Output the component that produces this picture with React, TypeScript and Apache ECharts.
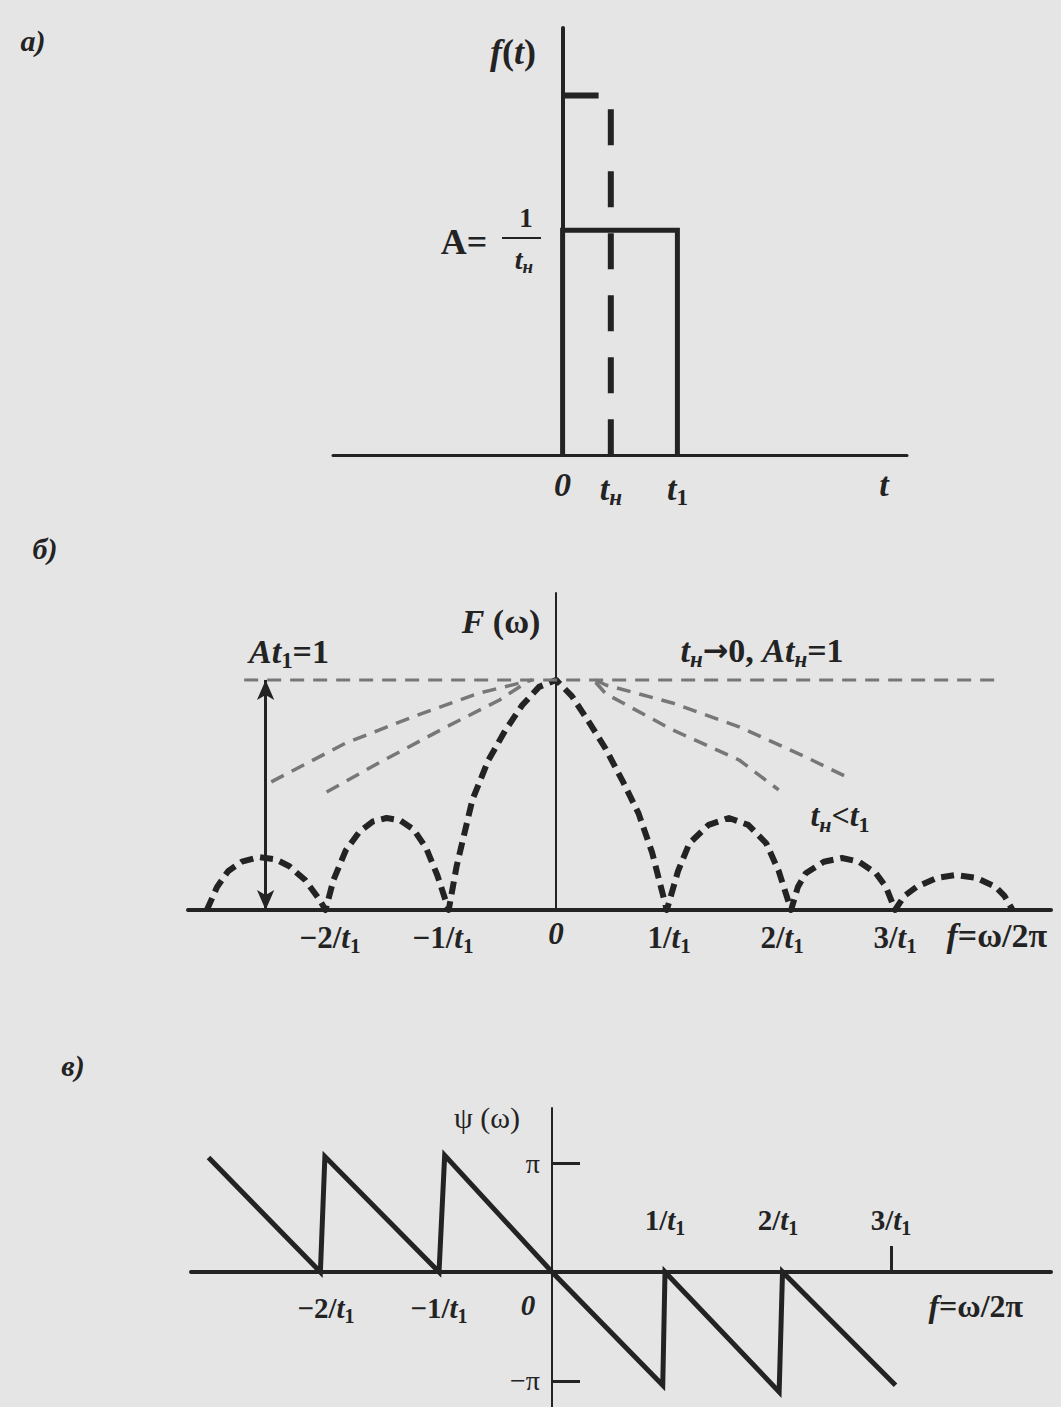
import React, { useEffect, useRef } from "react";
import * as echarts from "echarts";

const W = 1061;
const H = 1407;
const INK = "#232323";
const GREY = "#777777";
const PAPER = "#e5e5e5";
const SERIF = "'Liberation Serif', 'DejaVu Serif', serif";

// ---- а) rectangular pulses: time in units of t1, amplitude in units of A
const tN = 0.42;
const pulseT1: number[][] = [[0, 0], [0, 1], [1, 1], [1, 0]];
const pulseTn: number[][] = [[0, 1.6], [tN, 1.6], [tN, 0]];
const timeTickValues = [0, tN, 1, 2.8];
const timeTickLabels = ["{i|0}", "{i|t}{si|н}", "{i|t}{s|1}", "{i|t}"];

// ---- б) amplitude spectrum |F|, frequency in units of 1/t1
const spectrumT1: number[][] = [
  [-3.09, 0], [-3.0, 0.1], [-2.9, 0.17], [-2.78, 0.21], [-2.63, 0.23], [-2.48, 0.22],
  [-2.36, 0.19], [-2.22, 0.13], [-2.1, 0.05], [-2.04, 0],
  [-1.97, 0.13], [-1.86, 0.26], [-1.74, 0.34], [-1.62, 0.385], [-1.5, 0.4], [-1.38, 0.39],
  [-1.26, 0.35], [-1.15, 0.27], [-1.05, 0.15], [-0.95, 0],
  [-0.88, 0.19], [-0.74, 0.48], [-0.6, 0.65], [-0.45, 0.78], [-0.3, 0.89], [-0.15, 0.97], [0, 1],
  [0.14, 0.93], [0.3, 0.81], [0.44, 0.7], [0.6, 0.55], [0.73, 0.42], [0.85, 0.25], [0.98, 0],
  [1.08, 0.17], [1.18, 0.29], [1.35, 0.37], [1.53, 0.4], [1.7, 0.37], [1.86, 0.29], [1.97, 0.17], [2.08, 0],
  [2.14, 0.1], [2.21, 0.16], [2.37, 0.21], [2.53, 0.226], [2.68, 0.21], [2.83, 0.16], [2.92, 0.1], [3.0, 0],
  [3.08, 0.06], [3.19, 0.1], [3.37, 0.14], [3.54, 0.152], [3.72, 0.14], [3.89, 0.1], [3.97, 0.06], [4.04, 0],
];
// main lobes of shorter pulses (tн < t1)
const shortLobeLeft: number[][] = [[-2.52, 0.557], [-1.86, 0.726], [-1.27, 0.839], [-0.68, 0.943], [-0.21, 1.0]];
const shortLobeRight: number[][] = [[0.35, 1.0], [0.44, 0.978], [1.03, 0.9], [1.62, 0.796], [2.21, 0.665], [2.59, 0.574]];
const midLobeLeft: number[][] = [[-2.03, 0.513], [-1.57, 0.639], [-0.97, 0.796], [-0.5, 0.913], [-0.27, 0.987]];
const midLobeRight: number[][] = [[0.35, 0.99], [0.44, 0.94], [1.03, 0.783], [1.62, 0.652], [1.97, 0.522]];
// limit tн -> 0: flat spectrum
const flatLevel: number[][] = [[-2.76, 1], [3.92, 1]];
const arrowAt = -2.57;
const freqTickValues = [-2, -1, 0, 1, 2, 3, 3.9];
const freqTickLabels = [
  "{n|−2/}{i|t}{s|1}", "{n|−1/}{i|t}{s|1}", "{i|0}", "{n|1/}{i|t}{s|1}",
  "{n|2/}{i|t}{s|1}", "{n|3/}{i|t}{s|1}", "{I|f}{N|=ω/2π}",
];

// ---- в) phase spectrum ψ, in units of π
const phase: number[][] = [
  [-3.04, 1.05], [-2.05, 0], [-2.01, 1.06], [-1.0, 0], [-0.95, 1.07], [0, 0],
  [0.98, -1.04], [1.0, 0], [2.01, -1.1], [2.04, 0], [3.04, -1.04],
];
const phaseLowTicks = [-2, -1, 0, 3.75];
const phaseLowLabels = ["{n|−2/}{i|t}{s|1}", "{n|−1/}{i|t}{s|1}", "{z|0}", "{I|f}{N|=ω/2π}"];
const phaseHighTicks = [1, 2, 3];
const phaseHighLabels = ["{n|1/}{i|t}{s|1}", "{n|2/}{i|t}{s|1}", "{n|3/}{i|t}{s|1}"];
const phaseLevels = [1, -1];
const phaseLevelLabels = ["π", "−π"];

// frame of panel в (pixels) and where its zero lines fall
const PH = { left: 191, right: 1051, top: 1108, bottom: H, zeroX: 552, zeroY: 1272 };

const pick = (vals: number[], labels: string[]) => (v: number) => {
  const i = vals.findIndex((u) => Math.abs(u - v) < 1e-6);
  return i >= 0 ? labels[i] : "";
};

const rich = (size: number, weight: string = "normal") => {
  const base = { fontFamily: SERIF, color: INK, fontWeight: weight };
  const sub = Math.round(size * 0.68);
  const drop = Math.round(size * 0.55);
  return {
    i: { ...base, fontStyle: "italic", fontSize: size },
    bi: { ...base, fontStyle: "italic", fontWeight: "bold", fontSize: size },
    n: { ...base, fontSize: size },
    I: { ...base, fontStyle: "italic", fontSize: size + 3 },
    N: { ...base, fontSize: size + 3 },
    ar: { ...base, fontFamily: "'DejaVu Sans', sans-serif", fontWeight: "bold", fontSize: size * 0.9 },
    z: { ...base, fontStyle: "italic", fontSize: size, padding: [0, 48, 0, 0] },
    s: { ...base, fontSize: sub, padding: [drop, 0, 0, 0] },
    si: { ...base, fontStyle: "italic", fontSize: sub, padding: [drop, 0, 0, 0] },
  };
};

const note = (x: number, y: number, text: string, size: number, weight = "normal") => ({
  type: "text",
  x,
  y,
  silent: true,
  style: {
    text,
    rich: rich(size, weight),
    fontFamily: SERIF,
    fontSize: size,
    fill: INK,
    align: "center",
    verticalAlign: "middle",
  },
});

const dashed = (data: number[][], grid: number, color: string, width: number, dash: number[]) => ({
  type: "line",
  xAxisIndex: grid,
  yAxisIndex: grid,
  data,
  symbol: "none",
  silent: true,
  clip: false,
  lineStyle: { color, width, type: dash, cap: "butt", join: "round" },
});

export default function App() {
  const ref = useRef<HTMLDivElement>(null);

  useEffect(() => {
    if (!ref.current) return;
    const chart = echarts.init(ref.current, undefined, { renderer: "svg" });

    const axisLine = (width: number, onZero = true) => ({ show: true, onZero, lineStyle: { color: INK, width } });

    chart.setOption({
      animation: false,
      backgroundColor: PAPER,
      grid: [
        { left: 333, right: W - 907, top: 28, bottom: H - 455, outerBoundsMode: "none" },
        { left: 188, right: W - 1051, top: 593, bottom: H - 910, outerBoundsMode: "none" },
        { left: PH.left, right: W - PH.right, top: PH.top, bottom: H - PH.bottom, outerBoundsMode: "none" },
      ],
      xAxis: [
        {
          gridIndex: 0, type: "value", min: -2, max: 3,
          axisLine: axisLine(3), axisTick: { show: false }, splitLine: { show: false },
          axisLabel: {
            customValues: timeTickValues, formatter: pick(timeTickValues, timeTickLabels),
            rich: rich(34, "bold"), margin: 12,
          },
        },
        {
          gridIndex: 1, type: "value", min: -3.257, max: 4.38,
          axisLine: axisLine(4), axisTick: { show: false }, splitLine: { show: false },
          axisLabel: {
            customValues: freqTickValues, formatter: pick(freqTickValues, freqTickLabels),
            rich: rich(31, "bold"), margin: 8,
          },
        },
        {
          // frequency axis of panel в, lifted from the frame's bottom to ψ = 0
          gridIndex: 2, type: "value", min: -3.195, max: 4.416, position: "bottom",
          offset: -(PH.bottom - PH.zeroY),
          axisLine: axisLine(4, false), axisTick: { show: false }, splitLine: { show: false },
          axisLabel: {
            customValues: phaseLowTicks, formatter: pick(phaseLowTicks, phaseLowLabels),
            rich: rich(29, "bold"), margin: 18,
          },
        },
        {
          // labels of the positive frequencies, written above ψ = 0
          gridIndex: 2, type: "value", min: -3.195, max: 4.416, position: "top",
          offset: -(PH.zeroY - PH.top),
          axisLine: { show: false, onZero: false },
          axisTick: { show: true, customValues: [3], length: 26, lineStyle: { color: INK, width: 3 } },
          splitLine: { show: false },
          axisLabel: {
            customValues: phaseHighTicks, formatter: pick(phaseHighTicks, phaseHighLabels),
            rich: rich(29, "bold"), margin: 34,
          },
        },
      ],
      yAxis: [
        {
          gridIndex: 0, type: "value", min: 0, max: 1.9,
          axisLine: axisLine(4), axisTick: { show: false }, axisLabel: { show: false }, splitLine: { show: false },
        },
        {
          gridIndex: 1, type: "value", min: 0, max: 1.378,
          axisLine: axisLine(2), axisTick: { show: false }, axisLabel: { show: false }, splitLine: { show: false },
        },
        {
          gridIndex: 2, type: "value", min: -1.239, max: 1.505,
          offset: -(PH.zeroX - PH.left),
          axisLine: axisLine(2, false),
          axisTick: { show: true, inside: true, customValues: phaseLevels, length: 28, lineStyle: { color: INK, width: 3 } },
          axisLabel: {
            customValues: phaseLevels, formatter: pick(phaseLevels, phaseLevelLabels),
            fontFamily: SERIF, fontSize: 28, color: INK, margin: 12,
          },
          splitLine: { show: false },
        },
      ],
      series: [
        { ...dashed(pulseT1, 0, INK, 5, [1, 0]), lineStyle: { color: INK, width: 5, type: "solid", join: "miter" } },
        dashed(pulseTn, 0, INK, 6, [36, 26]),
        dashed(spectrumT1, 1, INK, 6, [13, 7]),
        dashed(shortLobeLeft, 1, GREY, 3.5, [14, 9]),
        dashed(shortLobeRight, 1, GREY, 3.5, [14, 9]),
        dashed(midLobeLeft, 1, GREY, 3.5, [14, 9]),
        dashed(midLobeRight, 1, GREY, 3.5, [14, 9]),
        {
          ...dashed(flatLevel, 1, GREY, 3, [14, 9]),
          markLine: {
            silent: true,
            symbol: ["arrow", "arrow"],
            symbolSize: [13, 20],
            label: { show: false },
            lineStyle: { color: INK, width: 3, type: "solid" },
            data: [[{ coord: [arrowAt, 0] }, { coord: [arrowAt, 1] }]],
          },
        },
        { ...dashed(phase, 2, INK, 5, [1, 0]), lineStyle: { color: INK, width: 5, type: "solid", join: "miter" } },
      ],
      graphic: [
        note(33, 40, "{i|а)}", 30, "bold"),
        note(513, 52, "{i|f}{n|(}{i|t}{n|)}", 36, "bold"),
        note(464, 242, "{n|A=}", 36, "bold"),
        note(526, 218, "{n|1}", 27, "bold"),
        { type: "line", silent: true, shape: { x1: 502, y1: 238, x2: 541, y2: 238 }, style: { stroke: INK, lineWidth: 2 } },
        note(524, 259, "{i|t}{si|н}", 28, "bold"),
        note(45, 548, "{i|б)}", 30, "bold"),
        note(501, 621, "{bi|F}{n| (ω)}", 34, "bold"),
        note(289, 651, "{bi|A}{i|t}{s|1}{n|=1}", 34, "bold"),
        note(762, 650, "{i|t}{si|н}{ar|→}{n|0, }{bi|A}{i|t}{si|н}{n|=1}", 34, "bold"),
        note(840, 815, "{i|t}{si|н}{n|<}{i|t}{s|1}", 32, "bold"),
        note(73, 1065, "{i|в)}", 30, "bold"),
        note(487, 1117, "{n|ψ (ω)}", 30),
      ],
    });

    return () => chart.dispose();
  }, []);

  return <div ref={ref} style={{ position: "absolute", left: 0, top: 0, width: W, height: H }} />;
}
